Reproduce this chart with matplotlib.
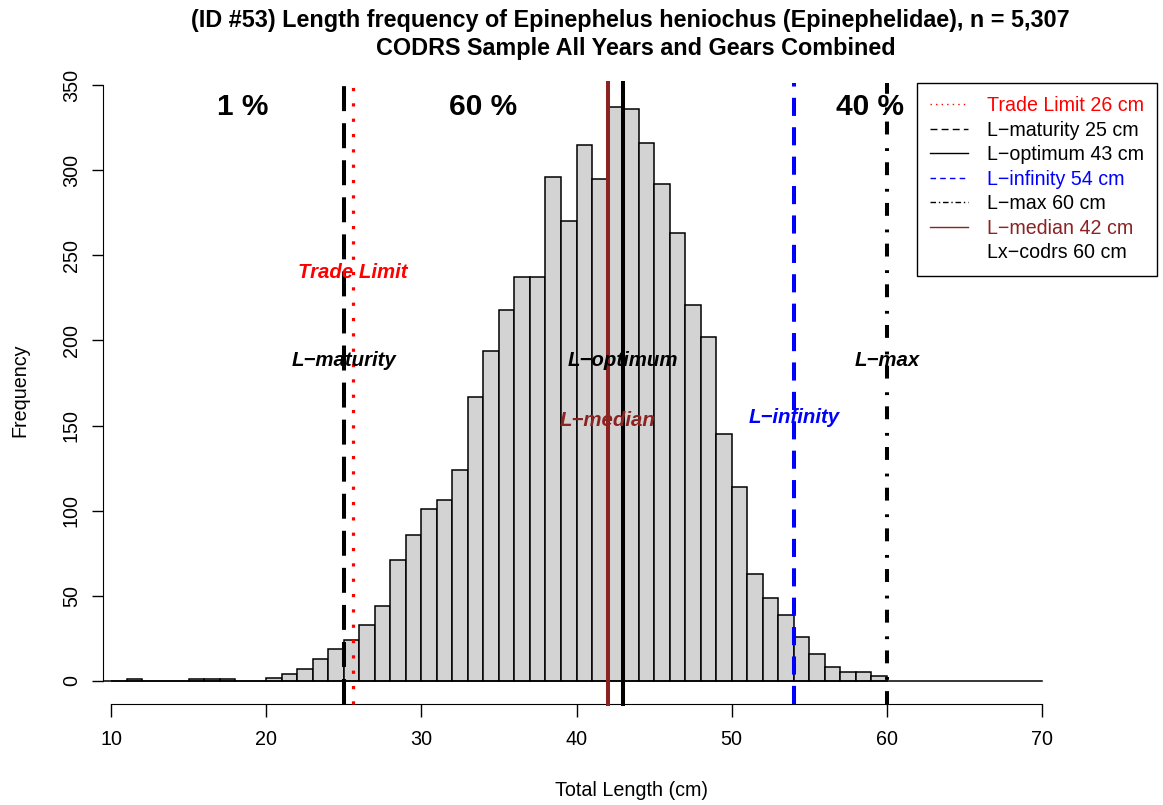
import numpy as np
import matplotlib
matplotlib.use("Agg")
import matplotlib.pyplot as plt
from matplotlib.lines import Line2D

plt.rcParams['font.family'] = ['Liberation Sans', 'DejaVu Sans']

# length bins (left edges, 1 cm wide) and counts
bin_left = list(range(10, 60))
counts = [0, 1, 0, 0, 0, 1, 1, 1, 0, 0,
          2, 4, 7, 13, 19,
          24, 33, 44, 71, 86,
          101, 106, 124, 167, 194,
          218, 237, 237, 296, 270,
          315, 295, 337, 336, 316,
          292, 263, 221, 202, 145,
          114, 63, 49, 39, 26,
          16, 8, 5, 5, 3]

# reference lengths
trade_limit = 25.6
l_maturity = 25
l_optimum = 43
l_infinity = 54
l_max = 60
l_median = 42

pct_labels = ["1 %", "60 %", "40 %"]
pct_x = [18.5, 34.0, 58.9]

brown = '#8B2323'

W, H = 1163, 805
fig = plt.figure(figsize=(W / 100, H / 100), dpi=100)

# pixel layout of the axes
x10, x70 = 111, 1042
y0, y350 = 681, 85
ax_l, ax_r, ax_t, ax_b = 103, 1160, 60, 722
ax = fig.add_axes([ax_l / W, 1 - ax_b / H, (ax_r - ax_l) / W, (ax_b - ax_t) / H])
sx = 60 / (x70 - x10)
sy = 350 / (y0 - y350)
ax.set_xlim(10 + (ax_l - x10) * sx, 10 + (ax_r - x10) * sx)
ax.set_ylim((y0 - ax_b) * sy, (y0 - ax_t) * sy)
y_axis = (y0 - 704) * sy
y_top = (y0 - 83) * sy

# histogram
ax.bar(bin_left, counts, width=1, align='edge', color='#D3D3D3',
       edgecolor='black', linewidth=1.1, zorder=2)
ax.plot([ax.get_xlim()[0], 70], [0, 0], color='black', lw=1.1, zorder=3)

lw = 2.9
ax.plot([trade_limit] * 2, [y_axis, y_top], color='red', lw=2.3,
        dashes=(1.0, 3.8), zorder=4)
ax.plot([l_maturity] * 2, [y_axis, y_top], color='black', lw=lw,
        dashes=(6.2, 3.0), zorder=4)
ax.plot([l_median] * 2, [y_axis, y_top], color=brown, lw=lw, zorder=4)
ax.plot([l_optimum] * 2, [y_axis, y_top], color='black', lw=lw, zorder=4)
ax.plot([l_infinity] * 2, [y_axis, y_top], color='blue', lw=lw,
        dashes=(4.5, 2.8), zorder=4)
ax.plot([l_max] * 2, [y_axis, y_top], color='black', lw=lw,
        dashes=(3.2, 2.8, 0.7, 3.4), zorder=4)

# labels on the lines
lab = dict(fontsize=14.7, fontweight='bold', fontstyle='italic',
           ha='center', va='center', zorder=5)
ax.text(trade_limit, 240, "Trade Limit", color='red', **lab)
ax.text(l_maturity, 188, "L\u2212maturity", color='black', **lab)
ax.text(l_optimum, 188, "L\u2212optimum", color='black', **lab)
ax.text(l_max, 188, "L\u2212max", color='black', **lab)
ax.text(l_median, 153, "L\u2212median", color=brown, **lab)
ax.text(l_infinity, 154.5, "L\u2212infinity", color='blue', **lab)

for s, xx in zip(pct_labels, pct_x):
    ax.text(xx, 337, s, fontsize=21.5, fontweight='bold',
            ha='center', va='center', zorder=5)

# axes in R style
for s in ['top', 'right']:
    ax.spines[s].set_visible(False)
ax.spines['left'].set_bounds(0, 350)
ax.spines['bottom'].set_position(('data', y_axis))
ax.spines['bottom'].set_bounds(10, 70)
ax.set_xticks(range(10, 71, 10))
ax.set_yticks(range(0, 351, 50))
ax.tick_params(axis='x', direction='out', length=9, width=1, pad=10, labelsize=14.2)
ax.tick_params(axis='y', direction='out', length=8, width=1, pad=8, labelsize=14.2)
for t in ax.get_yticklabels():
    t.set_rotation(90)
    t.set_va('center')

fig.text(630 / W, 1 - 20 / H,
         "(ID #53) Length frequency of Epinephelus heniochus (Epinephelidae), n = 5,307",
         ha='center', va='center', fontsize=16.8, fontweight='bold')
fig.text(636 / W, 1 - 48 / H, "CODRS Sample All Years and Gears Combined",
         ha='center', va='center', fontsize=16.8, fontweight='bold')
fig.text(631 / W, 1 - 790 / H, "Total Length (cm)", ha='center', va='center', fontsize=14.2)
fig.text(20 / W, 1 - 390 / H, "Frequency", ha='center', va='center',
         rotation=90, fontsize=14.2)

# legend
handles = [
    Line2D([], [], color='red', lw=1, dashes=(1, 3)),
    Line2D([], [], color='black', lw=1, dashes=(5, 3)),
    Line2D([], [], color='black', lw=1),
    Line2D([], [], color='blue', lw=1, dashes=(4, 3)),
    Line2D([], [], color='black', lw=1, dashes=(4, 2, 1, 2)),
    Line2D([], [], color=brown, lw=1),
    Line2D([], [], color='none', lw=1),
]
names = ["Trade Limit 26 cm", "L\u2212maturity 25 cm", "L\u2212optimum 43 cm",
         "L\u2212infinity 54 cm", "L\u2212max 60 cm", "L\u2212median 42 cm",
         "Lx\u2212codrs 60 cm"]
colors = ['red', 'black', 'black', 'blue', 'black', brown, 'black']
leg = fig.legend(handles, names, loc='upper left',
                 bbox_to_anchor=(917 / W, 1 - 83 / H), fontsize=14.1,
                 frameon=True, fancybox=False, framealpha=1, edgecolor='black',
                 handlelength=1.9, handletextpad=1.0, labelspacing=0.28,
                 borderpad=0.68, borderaxespad=0)
leg.get_frame().set_linewidth(1)
for t, c in zip(leg.get_texts(), colors):
    t.set_color(c)

fig.savefig("out.png", dpi=100)
